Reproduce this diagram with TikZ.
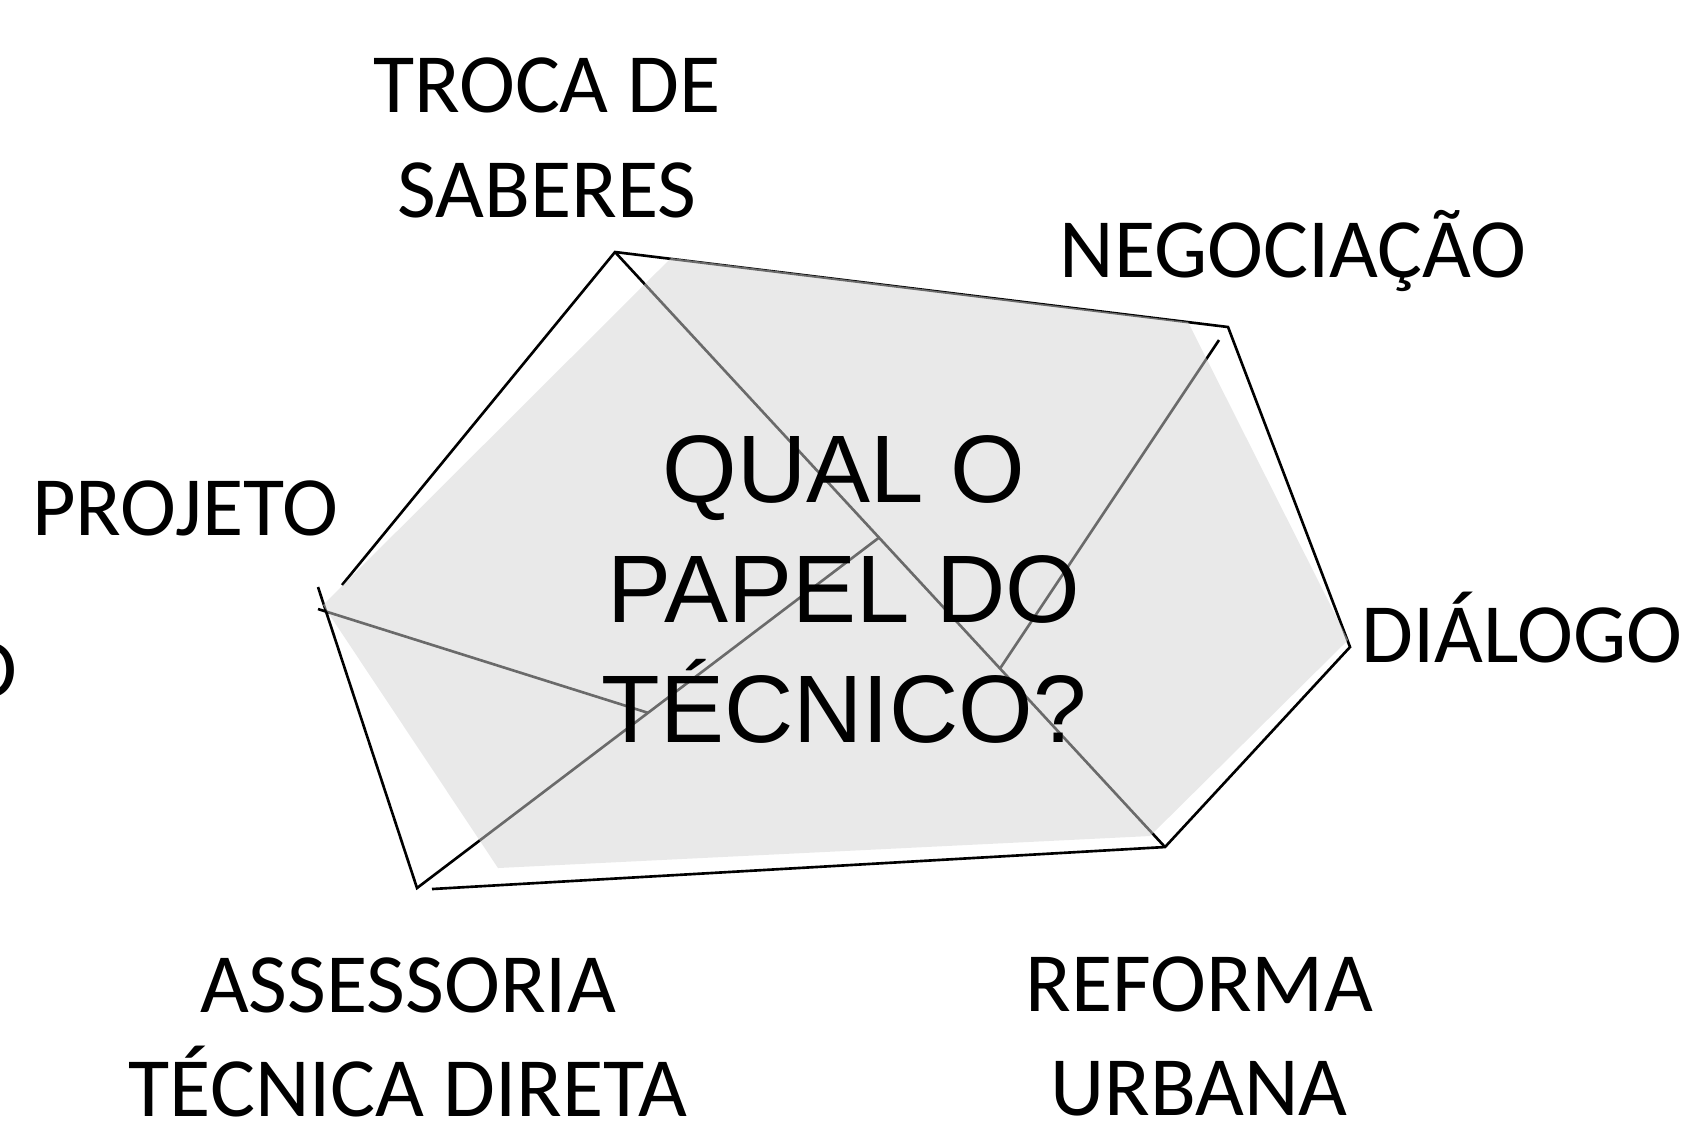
\documentclass[tikz,border=0pt]{standalone}
\usepackage{fontspec}
\setmainfont{Carlito}
\newfontfamily\arialfont{Liberation Sans}
\usetikzlibrary{calc}

\tikzset{
  lado/.style={line width=0.75pt},
  fundo/.style={fill=black!17, fill opacity=0.5},
  termo/.style={font=\fontsize{24}{29.6}\selectfont, align=center, anchor=base, inner sep=0pt},
  pergunta/.style={font=\arialfont\fontsize{27.3}{34.1}\selectfont, align=center, anchor=base, inner sep=0pt}
}

\begin{document}
\begin{tikzpicture}[x=0.1mm,y=-0.1mm]
             \useasboundingbox (0,0) rectangle (1697,1132);
             \coordinate (T) at (615,252);
             \coordinate (N) at (1228,327);
             \coordinate (D) at (1350,647);
             \coordinate (R) at (1165,847);
             \coordinate (B) at (417,888);
             \coordinate (P) at (318,587);
             \coordinate (Ta) at (342,585);
             \coordinate (Ra) at (432,889);
             \coordinate (Na) at (1219,340);
             \coordinate (Pa) at (318,609);
             \coordinate (X1) at ($(T)!0.48!(R)$);
             \coordinate (X2) at ($(T)!0.70!(R)$);
             \coordinate (X3) at ($(B)!0.50!(X1)$);
             \draw[lado] (Ta) -- (T) -- (N) -- (D) -- (R) -- (Ra);
             \draw[lado] (P) -- (B) -- (X1);
             \draw[lado] (T) -- (R);
             \draw[lado] (Na) -- (X2);
             \draw[lado] (Pa) -- (X3);
             \fill[fundo] (671,258) -- (1188,322) -- (1348,640) -- (1150,836) -- (498,868) -- (323,605) -- cycle;
             \node[pergunta] (centro) at (844,742) {QUAL O\\PAPEL DO\\TÉCNICO?};
             \node[termo] (troca) at (547,217) {TROCA DE\\SABERES};
             \node[termo] (nego) at (1293,277) {NEGOCIAÇÃO};
             \node[termo] (proj) at (185,535) {PROJETO};
             \node[termo, anchor=base west] (dial) at (1361,662) {DIÁLOGO};
             \node[termo, anchor=base east] (corte) at (18,697) {O};
             \node[termo] (asse) at (408,1116) {ASSESSORIA\\TÉCNICA DIRETA};
             \node[termo] (refo) at (1199,1115) {REFORMA\\URBANA};
         \end{tikzpicture}
\end{document}
